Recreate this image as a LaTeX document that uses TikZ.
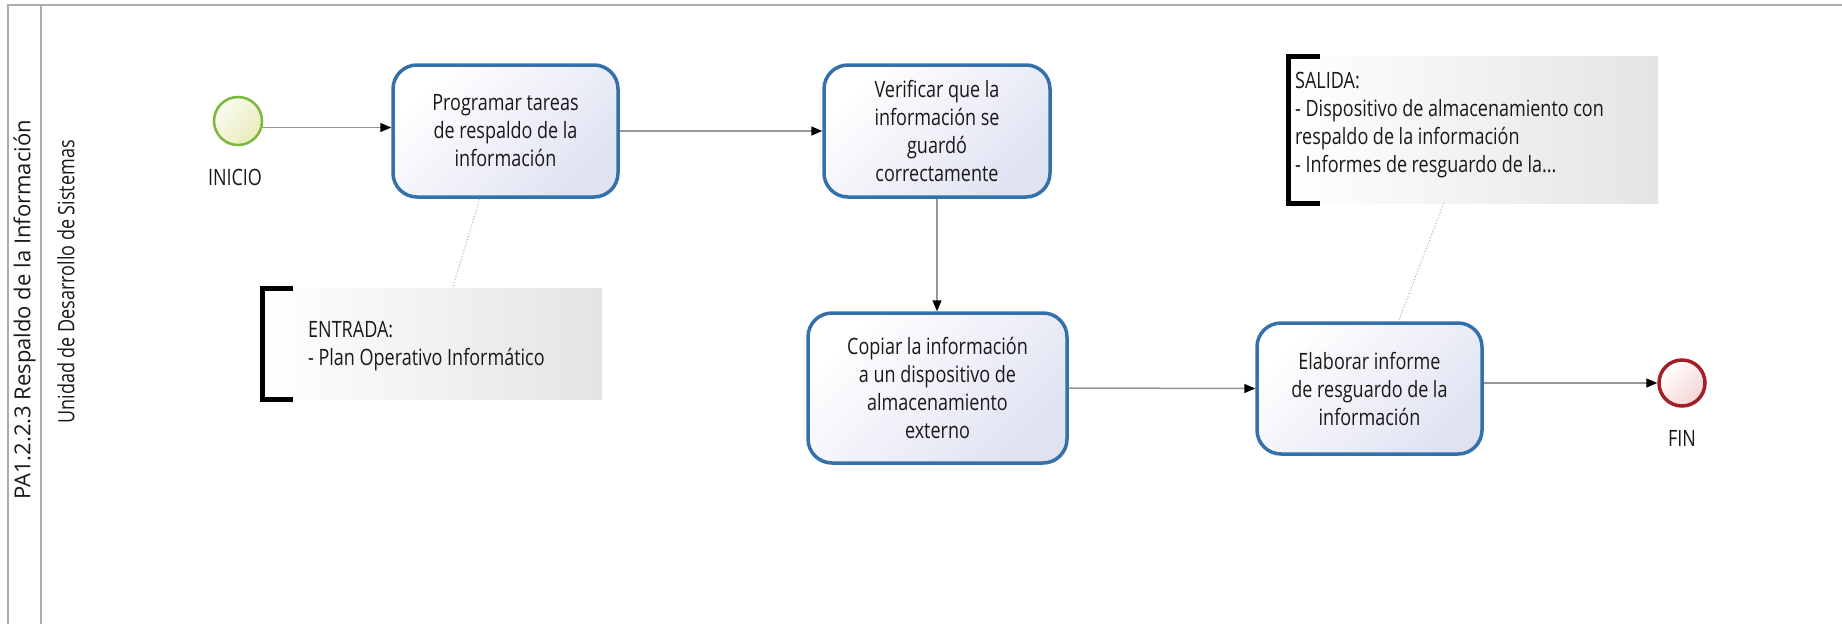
\documentclass[tikz,border=0pt]{standalone}
\usepackage{fontspec}
\setmainfont{Open Sans}[FakeStretch=0.8]
\newfontfamily\widefont{Open Sans}
\usetikzlibrary{arrows.meta,calc}
\newcommand{\bodyfnt}{\fontsize{22.5}{28}\selectfont\spaceskip=4.6pt plus 1pt minus 1pt\relax}
\definecolor{taskblue}{RGB}{52,112,170}
\definecolor{taskfill}{RGB}{224,226,242}
\definecolor{startgreen}{RGB}{124,184,62}
\definecolor{startfill}{RGB}{232,236,186}
\definecolor{endred}{RGB}{160,32,40}
\definecolor{endfill}{RGB}{246,212,214}
\definecolor{flowgray}{RGB}{150,150,150}
\definecolor{poolgray}{RGB}{172,172,172}
\definecolor{annotgray}{RGB}{228,228,228}
\definecolor{txt}{RGB}{25,25,25}
\tikzset{
  body/.style={font=\bodyfnt, text=txt},
  task/.style={body, draw=taskblue, line width=3.5pt, rounded corners=24pt,
    top color=white, bottom color=taskfill, shading angle=45,
    align=center, inner sep=0pt},
  startev/.style={circle, draw=startgreen, line width=2.5pt, minimum size=48pt,
    inner sep=0pt, top color=white!80!startfill, bottom color=startfill, shading angle=45},
  endev/.style={circle, draw=endred, line width=3.5pt, minimum size=46pt,
    inner sep=0pt, top color=white, bottom color=endfill, shading angle=45},
  flow/.style={draw=flowgray, line width=1.5pt,
    -{Triangle[length=11pt,width=9pt,color=black]}},
  assoc/.style={draw=flowgray!80, line width=1pt, dotted},
  annot/.style={left color=white, right color=annotgray, inner sep=0pt, anchor=north west},
  annottext/.style={body, align=left, anchor=west, inner sep=0pt},
  brack/.style={draw=black, line width=5pt},
  pool/.style={draw=poolgray, line width=2.5pt},
  lbl/.style={body}
}
\begin{document}
\begin{tikzpicture}[x=1pt,y=-1pt]
\useasboundingbox (0,0) rectangle (1842,624);
\fill[white] (0,0) rectangle (1842,624);

% pool and lane
\draw[pool] (8,624) -- (8,5) -- (1842,5);
\draw[pool, line width=2pt] (41,5) -- (41,624);
\node[rotate=90, font=\widefont\fontsize{22}{26}\selectfont, text=txt] (poolname) at (24.5,310) {PA1.2.2.3 Respaldo de la Información};
\node[rotate=90, body] (lanename) at (66,282) {Unidad de Desarrollo de Sistemas};

% events
\node[startev] (inicio) at (238,121) {};
\node[lbl] (inicioL) at (235,177) {INICIO};
\node[endev] (fin) at (1682,383) {};
\node[lbl] (finL) at (1682,438) {FIN};

% tasks
\node[task, minimum width=225pt, minimum height=132pt] (t1) at (505.5,131)
  {Programar tareas\\de respaldo de la\\información};
\node[task, minimum width=226pt, minimum height=132pt] (t2) at (937,131)
  {Verificar que la\\información se\\guardó\\correctamente};
\node[task, minimum width=259pt, minimum height=150pt] (t3) at (937.5,388)
  {Copiar la información\\a un dispositivo de\\almacenamiento\\externo};
\node[task, minimum width=225pt, minimum height=131pt] (t4) at (1369.5,388.5)
  {Elaborar informe\\de resguardo de la\\información};

% annotations
\node[annot, minimum width=340pt, minimum height=111pt] (entrada) at (262,288) {};
\node[annottext] (entradaT) at (308,346) {ENTRADA:\\- Plan Operativo Informático};
\draw[brack] ([xshift=31pt]entrada.north west) -| (entrada.south west) -- ([xshift=31pt]entrada.south west);
\node[annot, minimum width=370pt, minimum height=147pt] (salida) at (1288,56) {};
\node[annottext] (salidaT) at (1295,125) {SALIDA:\\- Dispositivo de almacenamiento con\\respaldo de la información\\- Informes de resguardo de la...};
\draw[brack] ([xshift=32pt]salida.north west) -| (salida.south west) -- ([xshift=32pt]salida.south west);

% associations
\draw[assoc] ($(t1.south west)!0.387!(t1.south east)$) -- ($(entrada.north west)!0.56!(entrada.north east)$);
\draw[assoc] ($(salida.south west)!0.42!(salida.south east)$) -- ($(t4.north west)!0.627!(t4.north east)$);

% flows
\draw[flow] (inicio.-15) -- (inicio.-15 -| t1.west);
\draw[flow] (t1.east) -- (t2.west);
\draw[flow] (t2.south) -- (t2.south |- t3.north);
\draw[flow] (t3.east) -- (t4.west);
\draw[flow] (fin.west -| t4.east) -- (fin.west);
\end{tikzpicture}
\end{document}
